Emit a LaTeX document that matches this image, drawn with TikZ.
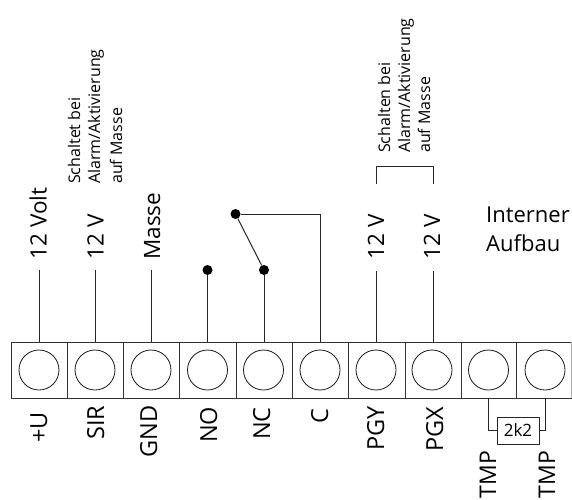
\documentclass[tikz,border=0pt]{standalone}
\usepackage{fontspec}
\setmainfont{Open Sans}
\tikzset{
  x=1pt,y=-1pt,
  wire/.style={line width=1pt,draw=black!85},
  cell/.style={draw=black!80,line width=1pt,minimum height=56pt,inner sep=0pt,outer sep=0pt},
  term/.style={circle,draw=black!90,line width=0.8pt,minimum size=40pt,inner sep=0pt},
  dotn/.style={circle,fill=black,minimum size=10pt,inner sep=0pt},
  big/.style={font=\fontsize{22}{26}\selectfont,inner sep=0pt},
  vbig/.style={font=\fontsize{22.5}{26}\selectfont,inner sep=0pt,rotate=90,anchor=base west},
  vlow/.style={font=\fontsize{23.5}{26}\selectfont,inner sep=0pt,rotate=90,anchor=base west},
  vsmall/.style={font=\fontsize{16}{20}\selectfont,inner sep=0pt,rotate=90,anchor=base west},
  res/.style={draw=black!85,line width=1pt,minimum width=42pt,minimum height=27pt,inner sep=0pt,font=\fontsize{17}{20}\selectfont}
}
\begin{document}
\begin{tikzpicture}
\useasboundingbox (0,0) rectangle (572,499);
\clip (0,0) rectangle (572,499);
% terminal cells
\foreach \i/\l/\r/\cx in {1/11/67/39,2/67/123/95,3/123/179/151,4/179/236/207.5,5/236/292/263.5,6/292/348/320,7/348/405/376,8/405/461/432,9/461/516.5/488.5,10/516.5/571.5/545}{
  \node[cell,minimum width={(\r-\l)*1pt}] (c\i) at ({(\l+\r)/2},370) {};
  \node[term] (t\i) at (\cx,370) {};
}
\draw[draw=black!30,line width=1pt] (c10.north east) -- (c10.south east);
% free ends
\coordinate (e1) at (c1.north |- 0,270);
\coordinate (e2) at (c2.north |- 0,270);
\coordinate (e3) at (c3.north |- 0,270);
\coordinate (e7) at (c7.north |- 0,271);
\coordinate (e8) at (c8.north |- 0,271);
\draw[wire] (c1.north) -- (e1);
\draw[wire] (c2.north) -- (e2);
\draw[wire] (c3.north) -- (e3);
\draw[wire] (c7.north) -- (e7);
\draw[wire] (c8.north) -- (e8);
% relay
\node[dotn] (no) at (c4.north |- 0,270) {};
\node[dotn] (nc) at (c5.north |- 0,270) {};
\node[dotn] (sw) at (235.5,214) {};
\draw[wire] (c4.north) -- (no);
\draw[wire] (c5.north) -- (nc);
\draw[wire] (sw) -- (nc);
\draw[wire] (sw) -| (c6.north);
% bracket
\coordinate (ba) at (c7.north |- 0,184);
\coordinate (bb) at (c8.north |- 0,184);
\draw[wire] (ba) -- (c7.north |- 0,166) -- (c8.north |- 0,166) -- (bb);
% resistor
\node[res] (r) at (518,430.5) {2k2};
\draw[wire] (t9 |- c9.south) |- (r.west);
\draw[wire] (t10 |- c10.south) |- (r.east);
% top labels
\node[vbig] (l1) at (46.5,259.5) {12 Volt};
\node[vbig] (l2) at (103.5,259.5) {12 V};
\node[vbig] (l3) at (160,260) {Masse};
\node[vbig] (l7) at (384,259.5) {12 V};
\node[vbig] (l8) at (440,259.5) {12 V};
\node[vsmall] (s1) at (80,184) {Schaltet bei};
\node[vsmall] (s2) at (100,184) {Alarm/Aktivierung};
\node[vsmall] (s3) at (122,184) {auf Masse};
\node[vsmall] (s4) at (390,153) {Schalten bei};
\node[vsmall] (s5) at (410,153) {Alarm/Aktivierung};
\node[vsmall] (s6) at (430,153) {auf Masse};
\node[big,anchor=base west] (i1) at (486,222) {Interner};
\node[big,anchor=base west] (i2) at (486,251) {Aufbau};
% bottom labels
\node[vlow] (b1) at (47,443) {+U};
\node[vlow] (b2) at (104,440) {SIR};
\node[vlow] (b3) at (157,458) {GND};
\node[vlow] (b4) at (217,443) {NO};
\node[vlow] (b5) at (270,440) {NC};
\node[vlow] (b6) at (328,424) {C};
\node[vlow] (b7) at (384,451) {PGY};
\node[vlow] (b8) at (443,452) {PGX};
\node[vlow,font=\fontsize{23}{26}\selectfont] (b9) at (496,498.5) {TMP};
\node[vlow,font=\fontsize{23}{26}\selectfont] (b10) at (555,498.5) {TMP};
\end{tikzpicture}
\end{document}
